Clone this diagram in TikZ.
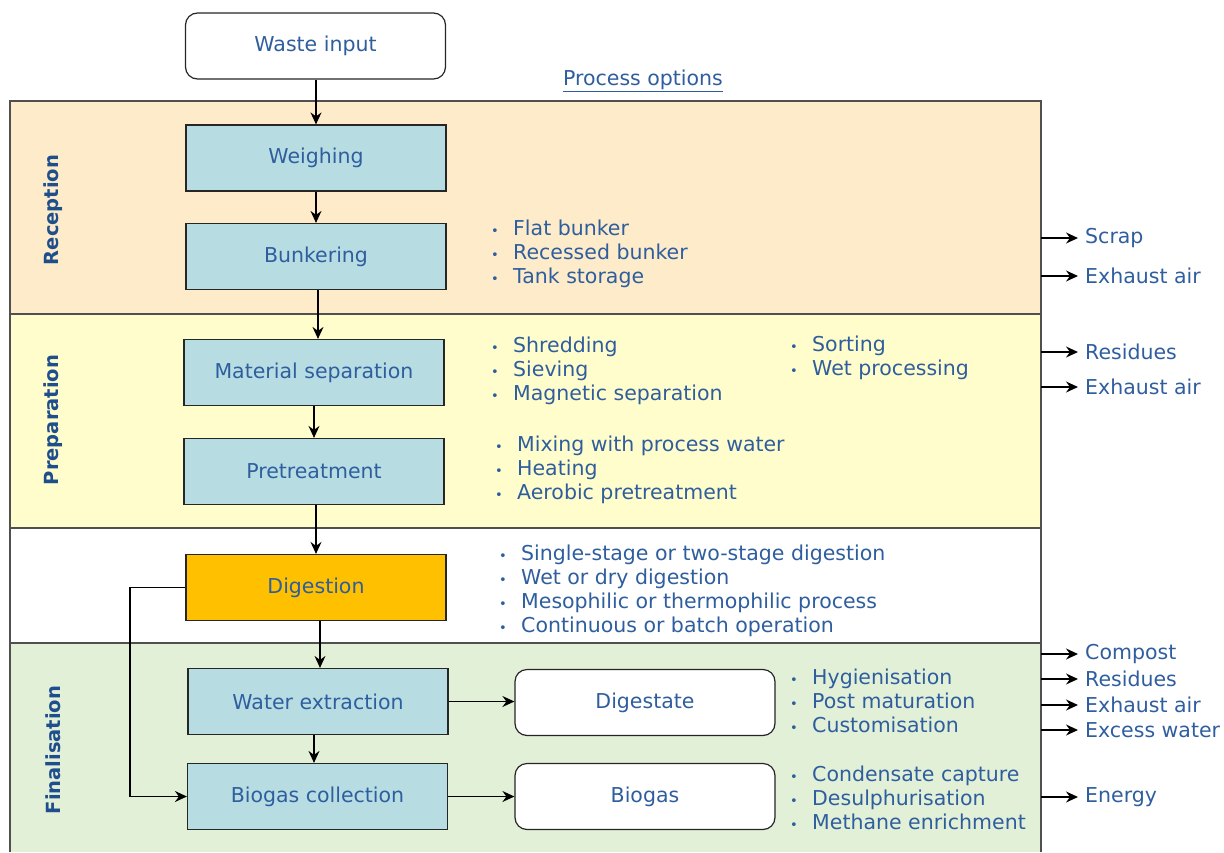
\documentclass[tikz,border=0pt]{standalone}
\usepackage{fontspec}
\setmainfont{DejaVu Sans}
\usetikzlibrary{arrows.meta}
\definecolor{txtblue}{HTML}{2F5E9E}
\definecolor{lblblue}{HTML}{1F4E8C}
\definecolor{recfill}{HTML}{FDEBC9}
\definecolor{prepfill}{HTML}{FFFDCB}
\definecolor{finfill}{HTML}{E3F0D8}
\definecolor{procfill}{HTML}{B7DDE3}
\definecolor{digfill}{HTML}{FFC000}
\definecolor{bandline}{HTML}{505050}
\newcommand{\itm}[1]{\makebox[22pt][l]{\fontsize{13}{13}\selectfont •}#1}
\tikzset{
  txt/.style={text=txtblue, font=\fontsize{20.5}{24}\selectfont, inner sep=0pt},
  proc/.style={draw=black!85, line width=1.2pt, fill=procfill, minimum width=260pt, minimum height=66pt, txt},
  rbox/.style={draw=black!85, line width=1.2pt, fill=white, rounded corners=12pt, minimum width=260pt, minimum height=66pt, txt},
  lst/.style={txt, align=left, anchor=west},
  side/.style={text=lblblue, font=\bfseries\fontsize{19.5}{22}\selectfont, rotate=90},
  band/.style={draw=bandline, line width=1.2pt},
  arr/.style={-{Stealth[length=12pt,width=11pt,inset=4pt]}, line width=1.3pt, black},
}
\begin{document}
\begin{tikzpicture}[x=1pt,y=-1pt]
\useasboundingbox (0,0) rectangle (1224,852);
% bands
\fill[recfill] (10,101) rectangle (1041,314);
\fill[prepfill] (10,314) rectangle (1041,528);
\fill[white] (10,528) rectangle (1041,643);
\fill[finfill] (10,643) rectangle (1041,852);
\draw[band] (10,852) -- (10,101) -- (1041,101) -- (1041,852);
\draw[band] (10,314) -- (1041,314);
\draw[band] (10,528) -- (1041,528);
\draw[band] (10,643) -- (1041,643);
% side labels
\node[side] (lrec) at (53,210) {Reception};
\node[side] (lprep) at (53,420) {Preparation};
\node[side] (lfin) at (53,750) {Finalisation};
% top
\node[rbox] (waste) at (315.5,46) {Waste input};
\node[txt] (popt) at (643,81) {\underline{Process options}};
% process boxes
\node[proc] (weigh) at (316,158) {Weighing};
\node[proc] (bunk) at (316,256.5) {Bunkering};
\node[proc] (matsep) at (314,372.5) {Material separation};
\node[proc] (pretr) at (314,471.5) {Pretreatment};
\node[proc, fill=digfill] (dig) at (316,587.5) {Digestion};
\node[proc] (water) at (318,701.5) {Water extraction};
\node[proc] (biocol) at (317.5,796.5) {Biogas collection};
\node[rbox] (digst) at (645,702.5) {Digestate};
\node[rbox] (biogas) at (645,796.5) {Biogas};
% arrows
\draw[arr] (waste.south -| 316,0) -- (weigh.north);
\draw[arr] (weigh.south) -- (bunk.north);
\draw[arr] (bunk.south -| 318,0) -- (matsep.north -| 318,0);
\draw[arr] (matsep.south -| 314,0) -- (pretr.north -| 314,0);
\draw[arr] (pretr.south -| 316,0) -- (dig.north -| 316,0);
\draw[arr] (dig.south -| 320,0) -- (water.north -| 320,0);
\draw[arr] (water.south -| 314,0) -- (biocol.north -| 314,0);
\draw[arr] (water.east) -- (digst.west |- water.east);
\draw[arr] (biocol.east) -- (biogas.west);
\draw[arr] (dig.west) -- (130,587.5) |- (biocol.west);
% bullet lists
\node[lst] (l1) at (491,254) {\itm{Flat bunker}\\\itm{Recessed bunker}\\\itm{Tank storage}};
\node[lst] (l2) at (491,371) {\itm{Shredding}\\\itm{Sieving}\\\itm{Magnetic separation}};
\node[lst] (l3) at (790,358) {\itm{Sorting}\\\itm{Wet processing}};
\node[lst] (l4) at (495,470) {\itm{Mixing with process water}\\\itm{Heating}\\\itm{Aerobic pretreatment}};
\node[lst] (l5) at (499,590.5) {\itm{Single-stage or two-stage digestion}\\\itm{Wet or dry digestion}\\\itm{Mesophilic or thermophilic process}\\\itm{Continuous or batch operation}};
\node[lst] (l6) at (790,701) {\itm{Hygienisation}\\\itm{Post maturation}\\\itm{Customisation}};
\node[lst] (l7) at (790,798) {\itm{Condensate capture}\\\itm{Desulphurisation}\\\itm{Methane enrichment}};
% outputs
\foreach \y/\t/\n in {238/Scrap/o1, 276/Exhaust air/o2, 352/Residues/o3, 387/Exhaust air/o4, 654/Compost/o5, 679/Residues/o6, 705/Exhaust air/o7, 730/Excess water/o8, 797/Energy/o9}{
  \coordinate (s\n) at (1041,\y);
  \node[txt, anchor=west] (\n) at (1085,\y) {\t};
  \draw[arr] (s\n) -- ([xshift=-7pt]\n.west);
}
\end{tikzpicture}
\end{document}
